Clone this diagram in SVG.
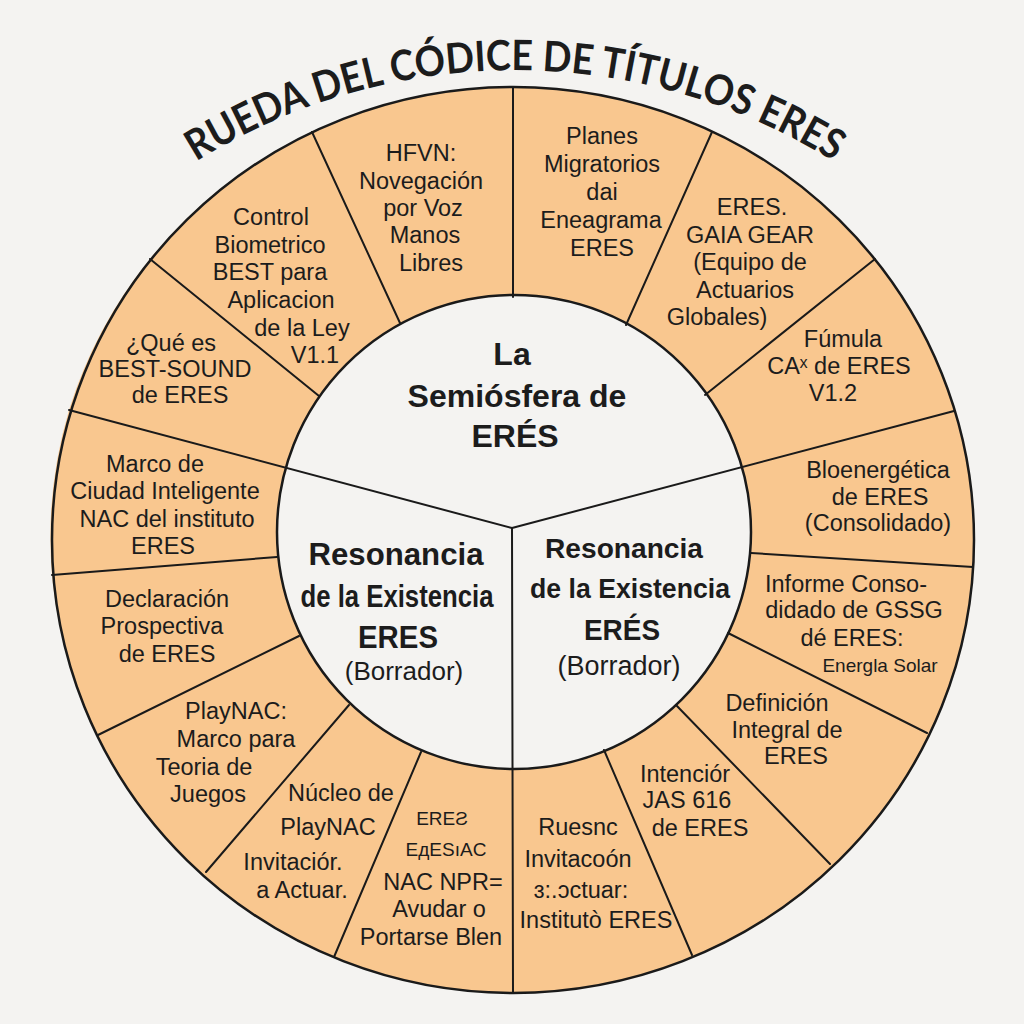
<svg xmlns="http://www.w3.org/2000/svg" width="1024" height="1024" viewBox="0 0 1024 1024">
<defs>
<style>
.seg{fill:#F9C78F;stroke:none}
.div{stroke:#1a1a1a;stroke-width:2;fill:none;stroke-linecap:round}
.t{font-family:"Liberation Sans",Arial,sans-serif;font-size:23.5px;fill:#1c1c1c;text-anchor:middle}
.s{font-size:19px}
.c{font-family:"Liberation Sans",Arial,sans-serif;font-weight:bold;fill:#1c1c1c;text-anchor:middle}
.cr{font-family:"Liberation Sans",Arial,sans-serif;fill:#1c1c1c;text-anchor:middle}
.title{font-family:Lato,"Liberation Sans",sans-serif;font-weight:bold;font-size:42px;fill:#1c1c1c}
</style>
<path id="titleArc" d="M -87,672 A 602,602 0 0 1 1117,672"/>
</defs>
<rect width="1024" height="1024" fill="#F4F3F1"/>
<text class="title"><textPath href="#titleArc" startOffset="50%" text-anchor="middle" textLength="672" lengthAdjust="spacingAndGlyphs">RUEDA DEL CÓDICE DE TÍTULOS ERES</textPath></text>
<ellipse cx="513" cy="540" rx="461" ry="453" fill="#F9C78F"/>
<g id="seg1"><path class="seg" d="M513,295 L513,87 A461,453 0 0 1 712,132 L626,325 A237,237 0 0 0 513,295 Z"/>
<text class="t"><tspan x="602" y="144">Planes</tspan><tspan x="602" y="172">Migratorios</tspan><tspan x="602" y="200">dai</tspan><tspan x="601" y="228">Eneagrama</tspan><tspan x="602" y="256">ERES</tspan></text></g>
<g id="seg2"><path class="seg" d="M626,325 L712,132 A461,453 0 0 1 875,259 L705,395 A237,237 0 0 0 626,325 Z"/>
<text class="t"><tspan x="752" y="215">ERES.</tspan><tspan x="750" y="243">GAIA GEAR</tspan><tspan x="750" y="270">(Equipo de</tspan><tspan x="745" y="298">Actuarios</tspan><tspan x="717" y="325">Globales)</tspan></text></g>
<g id="seg3"><path class="seg" d="M705,395 L875,259 A461,453 0 0 1 954,411 L742,467 A237,237 0 0 0 705,395 Z"/>
<text class="t"><tspan x="843" y="347">Fúmula</tspan><tspan x="839" y="374">CAˣ de ERES</tspan><tspan x="833" y="401">V1.2</tspan></text></g>
<g id="seg4"><path class="seg" d="M742,467 L954,411 A461,453 0 0 1 973,567 L751,553 A237,237 0 0 0 742,467 Z"/>
<text class="t"><tspan x="878" y="478">Bloenergética</tspan><tspan x="880" y="505">de ERES</tspan><tspan x="878" y="531">(Consolidado)</tspan></text></g>
<g id="seg5"><path class="seg" d="M751,553 L973,567 A461,453 0 0 1 927,733 L728,633 A237,237 0 0 0 751,553 Z"/>
<text class="t"><tspan x="846" y="592">Informe Conso-</tspan><tspan x="854" y="618">didado de GSSG</tspan><tspan x="852" y="646">dé ERES:</tspan><tspan class="s" x="880" y="672">Energla Solar</tspan></text></g>
<g id="seg6"><path class="seg" d="M728,633 L927,733 A461,453 0 0 1 830,864 L676,705 A237,237 0 0 0 728,633 Z"/>
<text class="t"><tspan x="777" y="711">Definición</tspan><tspan x="787" y="738">Integral de</tspan><tspan x="796" y="764">ERES</tspan></text></g>
<g id="seg7"><path class="seg" d="M676,705 L830,864 A461,453 0 0 1 692,955 L604,750 A237,237 0 0 0 676,705 Z"/>
<text class="t"><tspan x="685" y="782">Intenciór</tspan><tspan x="687" y="808">JAS 616</tspan><tspan x="700" y="836">de ERES</tspan></text></g>
<g id="seg8"><path class="seg" d="M604,750 L692,955 A461,453 0 0 1 513,993 L513,767 A237,237 0 0 0 604,750 Z"/>
<text class="t"><tspan x="578" y="835">Ruesnc</tspan><tspan x="578" y="867">Invitacoón</tspan><tspan x="581" y="898">ɜ:.ɔctuar:</tspan><tspan x="596" y="928">Institutò ERES</tspan></text></g>
<g id="seg9"><path class="seg" d="M513,767 L513,993 A461,453 0 0 1 334,957 L421,752 A237,237 0 0 0 513,767 Z"/>
<text class="t"><tspan class="s" x="442" y="825">EREƧ</tspan><tspan class="s" x="446" y="856">EдESıAC</tspan><tspan x="443" y="890">NAC NPR=</tspan><tspan x="439" y="917">Avudar o</tspan><tspan x="431" y="945">Portarse Blen</tspan></text></g>
<g id="seg10"><path class="seg" d="M421,752 L334,957 A461,453 0 0 1 206,872 L349,705 A237,237 0 0 0 421,752 Z"/>
<text class="t"><tspan x="341" y="801">Núcleo de</tspan><tspan x="328" y="835">PlayNAC</tspan><tspan x="293" y="870">Invitaciór.</tspan><tspan x="302" y="898">a Actuar.</tspan></text></g>
<g id="seg11"><path class="seg" d="M349,705 L206,872 A461,453 0 0 1 98,735 L299,636 A237,237 0 0 0 349,705 Z"/>
<text class="t"><tspan x="236" y="719">PlayNAC:</tspan><tspan x="236" y="747">Marco para</tspan><tspan x="204" y="775">Teoria de</tspan><tspan x="208" y="802">Juegos</tspan></text></g>
<g id="seg12"><path class="seg" d="M299,636 L98,735 A461,453 0 0 1 52,575 L277,557 A237,237 0 0 0 299,636 Z"/>
<text class="t"><tspan x="167" y="607">Declaración</tspan><tspan x="162" y="634">Prospectiva</tspan><tspan x="167" y="662">de ERES</tspan></text></g>
<g id="seg13"><path class="seg" d="M277,557 L52,575 A461,453 0 0 1 69,410 L285,468 A237,237 0 0 0 277,557 Z"/>
<text class="t"><tspan x="155" y="472">Marco de</tspan><tspan x="165" y="499">Ciudad Inteligente</tspan><tspan x="167" y="527">NAC del instituto</tspan><tspan x="163" y="554">ERES</tspan></text></g>
<g id="seg14"><path class="seg" d="M285,468 L69,410 A461,453 0 0 1 150,259 L319,396 A237,237 0 0 0 285,468 Z"/>
<text class="t"><tspan x="171" y="351">¿Qué es</tspan><tspan x="175" y="377">BEST-SOUND</tspan><tspan x="180" y="403">de ERES</tspan></text></g>
<g id="seg15"><path class="seg" d="M319,396 L150,259 A461,453 0 0 1 312,132 L400,323 A237,237 0 0 0 319,396 Z"/>
<text class="t"><tspan x="271" y="225">Control</tspan><tspan x="270" y="253">Biometrico</tspan><tspan x="270" y="280">BEST para</tspan><tspan x="281" y="308">Aplicacion</tspan><tspan x="302" y="336">de la Ley</tspan><tspan x="315" y="363">V1.1</tspan></text></g>
<g id="seg16"><path class="seg" d="M400,323 L312,132 A461,453 0 0 1 513,87 L513,295 A237,237 0 0 0 400,323 Z"/>
<text class="t"><tspan x="421" y="161">HFVN:</tspan><tspan x="421" y="189">Novegación</tspan><tspan x="423" y="216">por Voz</tspan><tspan x="425" y="243">Manos</tspan><tspan x="431" y="271">Libres</tspan></text></g>
<circle cx="514" cy="532" r="237" fill="#F4F3F1"/>
<g id="connectors">
<line class="div" x1="513" y1="87" x2="513" y2="297"/>
<line class="div" x1="712" y1="132" x2="626" y2="325"/>
<line class="div" x1="875" y1="259" x2="705" y2="395"/>
<line class="div" x1="512" y1="528" x2="954" y2="411"/>
<line class="div" x1="973" y1="567" x2="751" y2="553"/>
<line class="div" x1="927" y1="733" x2="728" y2="633"/>
<line class="div" x1="830" y1="864" x2="676" y2="705"/>
<line class="div" x1="692" y1="955" x2="604" y2="750"/>
<line class="div" x1="512" y1="528" x2="513" y2="993"/>
<line class="div" x1="334" y1="957" x2="421" y2="752"/>
<line class="div" x1="206" y1="872" x2="349" y2="705"/>
<line class="div" x1="98" y1="735" x2="299" y2="636"/>
<line class="div" x1="52" y1="575" x2="277" y2="557"/>
<line class="div" x1="512" y1="528" x2="69" y2="410"/>
<line class="div" x1="150" y1="259" x2="319" y2="396"/>
<line class="div" x1="312" y1="132" x2="400" y2="323"/>
</g>
<circle cx="514" cy="532" r="237" fill="none" stroke="#1a1a1a" stroke-width="2.5"/>
<ellipse cx="513" cy="540" rx="461" ry="453" fill="none" stroke="#1a1a1a" stroke-width="2.5"/>
<g id="core-top">
<text class="c" font-size="32"><tspan x="512" y="365">La</tspan><tspan x="517" y="407">Semiósfera de</tspan><tspan x="515" y="447">ERÉS</tspan></text>
</g>
<g id="core-left">
<text class="c" font-size="31" x="396" y="565" textLength="175" lengthAdjust="spacingAndGlyphs">Resonancia</text>
<text class="c" font-size="31" x="397" y="607" textLength="193" lengthAdjust="spacingAndGlyphs">de la Existencia</text>
<text class="c" font-size="32" x="398" y="648" textLength="80" lengthAdjust="spacingAndGlyphs">ERES</text>
<text class="cr" font-size="26" x="404" y="680">(Borrador)</text>
</g>
<g id="core-right">
<text class="c" font-size="28" x="624" y="558" textLength="158" lengthAdjust="spacingAndGlyphs">Resonancia</text>
<text class="c" font-size="28" x="630" y="598" textLength="200" lengthAdjust="spacingAndGlyphs">de la Existencia</text>
<text class="c" font-size="30" x="622" y="640" textLength="76" lengthAdjust="spacingAndGlyphs">ERÉS</text>
<text class="cr" font-size="27" x="619" y="675">(Borrador)</text>
</g>
</svg>
